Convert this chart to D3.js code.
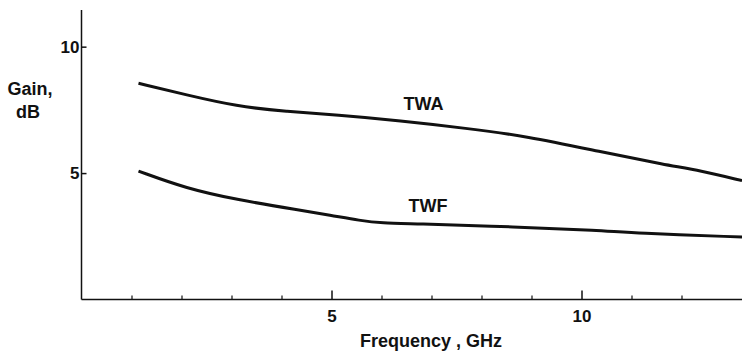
<!DOCTYPE html>
<html>
<head>
<meta charset="utf-8">
<script src="https://cdn.jsdelivr.net/npm/d3@7"></script>
<style>
  body { margin: 0; background: #fff; }
  text { font-family: "Liberation Sans", Arial, sans-serif; font-weight: bold; fill: #111; }
</style>
</head>
<body>
<div id="chart"></div>
<script>
const width = 742, height = 351;

// frequency (GHz) and gain (dB)
const twaFreq = [1.14, 2.1, 3.1, 4.1, 5.1, 6.37, 7.7, 8.9, 10.37, 11.7, 12.37, 13.21];
const twaGain = [8.55, 8.09, 7.64, 7.43, 7.30, 7.07, 6.77, 6.46, 5.85, 5.32, 5.10, 4.70];
const twfFreq = [1.14, 2.1, 3.1, 4.37, 4.97, 5.57, 6.03, 6.57, 8.7, 10.37, 11.04, 13.21];
const twfGain = [5.08, 4.39, 3.95, 3.53, 3.34, 3.12, 3.02, 3.00, 2.87, 2.74, 2.63, 2.47];

const seriesNames = ["TWA", "TWF"];
const labelAt = [{ f: 6.4, g: 7.07 }, { f: 6.5, g: 3.01 }];

const xMajor = [5, 10];
const xMinor = [1, 2, 3, 4, 6, 7, 8, 9, 11, 12];
const yTicks = [5, 10];

const x = d3.scaleLinear().domain([0, 13.21]).range([81.5, 742]);
const y = d3.scaleLinear().domain([0, 11.45]).range([299.5, 10]);

const svg = d3.select("#chart").append("svg")
    .attr("width", width)
    .attr("height", height);

// axes
svg.append("line")
    .attr("x1", x(0)).attr("x2", x(0))
    .attr("y1", y(11.45)).attr("y2", y(0))
    .attr("stroke", "#111").attr("stroke-width", 1.5);
svg.append("line")
    .attr("x1", x(0)).attr("x2", width)
    .attr("y1", y(0)).attr("y2", y(0))
    .attr("stroke", "#111").attr("stroke-width", 1.5);

// x ticks pointing up
const xAxisMinor = d3.axisBottom(x).tickValues(xMinor).tickSizeInner(-4).tickSizeOuter(0).tickFormat("");
const xAxisMajor = d3.axisBottom(x).tickValues(xMajor).tickSizeInner(-9).tickSizeOuter(0).tickPadding(10);

svg.append("g").attr("transform", `translate(0,${y(0)})`).call(xAxisMinor)
    .call(g => g.select(".domain").remove())
    .call(g => g.selectAll("line").attr("stroke", "#111").attr("stroke-width", 1.2));
svg.append("g").attr("transform", `translate(0,${y(0)})`).call(xAxisMajor)
    .call(g => g.select(".domain").remove())
    .call(g => g.selectAll("line").attr("stroke", "#111").attr("stroke-width", 1.5))
    .call(g => g.selectAll("text").attr("font-size", 17).attr("font-family", null).attr("fill", "#111"));

// y ticks pointing right
const yAxis = d3.axisLeft(y).tickValues(yTicks).tickSizeInner(-5).tickSizeOuter(0).tickPadding(2);
svg.append("g").attr("transform", `translate(${x(0)},0)`).call(yAxis)
    .call(g => g.select(".domain").remove())
    .call(g => g.selectAll("line").attr("stroke", "#111").attr("stroke-width", 1.5))
    .call(g => g.selectAll("text").attr("font-size", 17).attr("font-family", null).attr("fill", "#111"));

// axis titles
svg.append("text").attr("x", 30).attr("y", 95).attr("text-anchor", "middle")
    .attr("font-size", 18).text("Gain,");
svg.append("text").attr("x", 28).attr("y", 118).attr("text-anchor", "middle")
    .attr("font-size", 18).text("dB");
svg.append("text").attr("x", 431).attr("y", 347).attr("text-anchor", "middle")
    .attr("font-size", 18).text("Frequency , GHz");

// curves
const line = d3.line()
    .x(d => x(d[0]))
    .y(d => y(d[1]))
    .curve(d3.curveBasis);

const series = [
    d3.zip(twaFreq, twaGain),
    d3.zip(twfFreq, twfGain)
];

svg.selectAll(".curve")
    .data(series)
    .enter()
    .append("path")
    .attr("class", "curve")
    .attr("d", d => line(d))
    .attr("fill", "none")
    .attr("stroke", "#111")
    .attr("stroke-width", 3);

svg.selectAll(".lbl")
    .data(seriesNames)
    .enter()
    .append("text")
    .attr("class", "lbl")
    .attr("x", (d, i) => x(labelAt[i].f) + 2)
    .attr("y", (d, i) => y(labelAt[i].g) - 11)
    .attr("font-size", 18)
    .text(d => d);
</script>
</body>
</html>
